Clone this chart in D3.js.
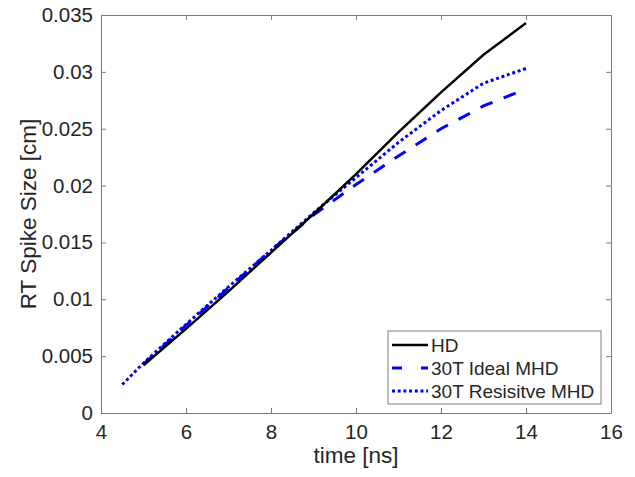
<!DOCTYPE html>
<html>
<head>
<meta charset="utf-8">
<script src="https://cdn.jsdelivr.net/npm/d3@7"></script>
<style>
  body { margin: 0; background: #fff; }
  text { font-family: "Liberation Sans", Arial, sans-serif; fill: #262626; }
</style>
</head>
<body>
<div id="chart"></div>
<script>
// Data
const hdTime = [5, 6, 7, 8, 9, 10, 11, 12, 13, 14];
const hdSize = [0.0042, 0.0074, 0.0107, 0.0141, 0.0175, 0.0210, 0.0247, 0.0282, 0.0315, 0.0343];

const idealTime = [5, 6, 7, 8, 9, 10, 11, 12, 13, 14];
const idealSize = [0.0043, 0.0077, 0.0110, 0.0143, 0.0174, 0.0201, 0.0226, 0.0250, 0.0270, 0.0285];

const resTime = [4.5, 5, 6, 7, 8, 9, 10, 11, 12, 13, 14];
const resSize = [0.0025, 0.0044, 0.0078, 0.0111, 0.0143, 0.0176, 0.0207, 0.0238, 0.0266, 0.0290, 0.0303];

const seriesNames = ["HD", "30T Ideal MHD", "30T Resisitve MHD"];
const xTicks = [4, 6, 8, 10, 12, 14, 16];
const yTicks = [0, 0.005, 0.01, 0.015, 0.02, 0.025, 0.03, 0.035];

const width = 635, height = 477;
const margin = {left: 101, right: 24, top: 15, bottom: 64};

const svg = d3.select("#chart")
              .append("svg")
              .attr("width", width)
              .attr("height", height);

const x = d3.scaleLinear().domain([4, 16]).range([margin.left, width - margin.right]);
const y = d3.scaleLinear().domain([0, 0.035]).range([height - margin.bottom, margin.top]);

const axisColor = "#7a7a7a";
const fmt = d => d === 0 ? "0" : String(+d.toFixed(3));

// Axes with inward ticks on all sides (box on)
const gx = svg.append("g")
   .attr("transform", `translate(0,${y(0)})`)
   .call(d3.axisBottom(x).tickValues(xTicks).tickSizeInner(-5).tickSizeOuter(0).tickPadding(11));
gx.selectAll("text").style("font-size", "20.5px").attr("dy", "0.71em");

const gxTop = svg.append("g")
   .attr("transform", `translate(0,${y(0.035)})`)
   .call(d3.axisTop(x).tickValues(xTicks).tickSizeInner(-5).tickSizeOuter(0).tickFormat(""));

const gy = svg.append("g")
   .attr("transform", `translate(${x(4)},0)`)
   .call(d3.axisLeft(y).tickValues(yTicks).tickSizeInner(-5).tickSizeOuter(0).tickPadding(8).tickFormat(fmt));
gy.selectAll("text").style("font-size", "20.5px");

const gyRight = svg.append("g")
   .attr("transform", `translate(${x(16)},0)`)
   .call(d3.axisRight(y).tickValues(yTicks).tickSizeInner(-5).tickSizeOuter(0).tickFormat(""));

[gx, gxTop, gy, gyRight].forEach(g => {
  g.select(".domain").attr("stroke", axisColor).attr("stroke-width", 1);
  g.selectAll(".tick line").attr("stroke", axisColor);
  g.selectAll("text").attr("fill", "#262626").style("font-family", "'Liberation Sans', Arial, sans-serif");
});

// Axis labels
svg.append("text")
   .attr("x", (x(4) + x(16)) / 2)
   .attr("y", 463)
   .attr("text-anchor", "middle")
   .style("font-size", "22.5px")
   .text("time [ns]");

svg.append("text")
   .attr("transform", `translate(36,${(y(0) + y(0.035)) / 2}) rotate(-90)`)
   .attr("text-anchor", "middle")
   .style("font-size", "22.5px")
   .text("RT Spike Size [cm]");

// Lines
const line = d3.line().x(d => x(d[0])).y(d => y(d[1]));

svg.append("path")
   .datum(resTime.map((t, i) => [t, resSize[i]]))
   .attr("d", line)
   .attr("fill", "none")
   .attr("stroke", "#0000ff")
   .attr("stroke-width", 3)
   .attr("stroke-dasharray", "3,2.7");

svg.append("path")
   .datum(idealTime.map((t, i) => [t, idealSize[i]]))
   .attr("d", line)
   .attr("fill", "none")
   .attr("stroke", "#0000ff")
   .attr("stroke-width", 3)
   .attr("stroke-dasharray", "13,12");

svg.append("path")
   .datum(hdTime.map((t, i) => [t, hdSize[i]]))
   .attr("d", line)
   .attr("fill", "none")
   .attr("stroke", "#000")
   .attr("stroke-width", 2.5);

// Legend
const legend = svg.append("g").attr("transform", "translate(388,331)");
legend.append("rect")
      .attr("width", 213)
      .attr("height", 73)
      .attr("fill", "#fff")
      .attr("stroke", axisColor);

const legendStyles = [
  {color: "#000", w: 2.5, dash: null},
  {color: "#0000ff", w: 3, dash: "10,19"},
  {color: "#0000ff", w: 3, dash: "3,2.7"}
];

seriesNames.forEach((name, i) => {
  const ry = 14 + i * 23;
  legend.append("line")
        .attr("x1", 4).attr("x2", 40)
        .attr("y1", ry).attr("y2", ry)
        .attr("stroke", legendStyles[i].color)
        .attr("stroke-width", legendStyles[i].w)
        .attr("stroke-dasharray", legendStyles[i].dash);
  legend.append("text")
        .attr("x", 43)
        .attr("y", ry + 7)
        .style("font-size", "19px")
        .text(name);
});
</script>
</body>
</html>
